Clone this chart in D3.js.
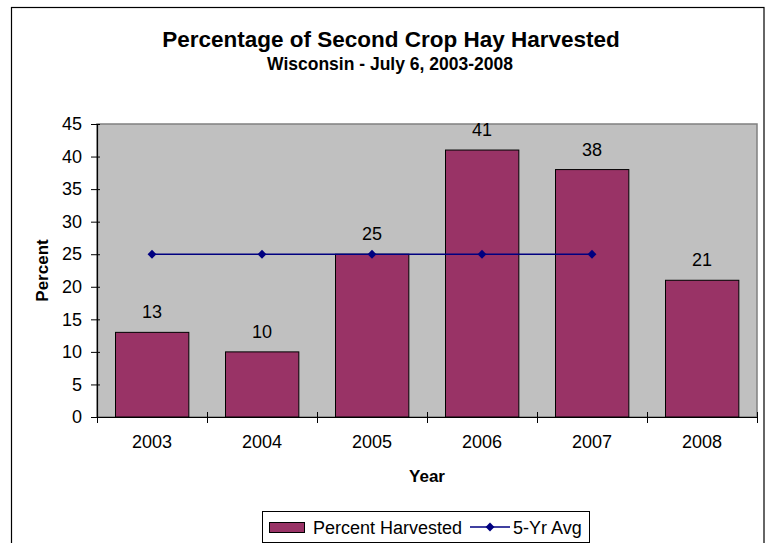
<!DOCTYPE html>
<html>
<head>
<meta charset="utf-8">
<script src="https://cdn.jsdelivr.net/npm/d3@7"></script>
<style>
  html, body { margin: 0; padding: 0; background: #fff; }
  svg { display: block; font-family: Arial, "Liberation Sans", sans-serif; }
</style>
</head>
<body>
<svg id="chart" width="773" height="543"></svg>
<script>
const years = ["2003", "2004", "2005", "2006", "2007", "2008"];
const percentHarvested = [13, 10, 25, 41, 38, 21];
const fiveYrAvg = [25, 25, 25, 25, 25, null];
const yTicks = [0, 5, 10, 15, 20, 25, 30, 35, 40, 45];

const svg = d3.select("#chart");
const plot = { left: 97, right: 757, top: 124, bottom: 417 };

// outer border
svg.append("rect").attr("x", 11.5).attr("y", 7.5).attr("width", 752.5).attr("height", 560)
  .attr("fill", "#fff").attr("stroke", "#000").attr("stroke-width", 1.2);

const x = d3.scaleBand().domain(years).range([plot.left, plot.right]).paddingInner(1/3).paddingOuter(1/6);
const xCat = d3.scaleBand().domain(years).range([plot.left, plot.right]);
const y = d3.scaleLinear().domain([0, 45]).range([plot.bottom, plot.top]);

// plot area
svg.append("rect").attr("x", plot.left).attr("y", plot.top)
  .attr("width", plot.right - plot.left).attr("height", plot.bottom - plot.top)
  .attr("fill", "#c0c0c0").attr("stroke", "#808080").attr("stroke-width", 1.5);

// bars
svg.append("g").selectAll("rect").data(years).join("rect")
  .attr("x", d => Math.round(x(d)) + 0.5)
  .attr("y", (d, i) => y(percentHarvested[i]))
  .attr("width", x.bandwidth())
  .attr("height", (d, i) => y(0) - y(percentHarvested[i]))
  .attr("fill", "#993366").attr("stroke", "#000").attr("stroke-width", 1);

// value labels
svg.append("g").selectAll("text").data(years).join("text")
  .attr("x", d => xCat(d) + xCat.bandwidth() / 2)
  .attr("y", (d, i) => y(percentHarvested[i]) - 14)
  .attr("text-anchor", "middle").attr("font-size", 18).attr("fill", "#000")
  .text((d, i) => percentHarvested[i]);

// y axis
const yAxis = d3.axisLeft(y).tickValues(yTicks).tickSizeInner(6).tickSizeOuter(0).tickPadding(9);
const gy = svg.append("g").attr("transform", `translate(${plot.left},0)`).call(yAxis);
gy.select(".domain").attr("stroke", "#000").attr("stroke-width", 1.2);
gy.selectAll(".tick line").attr("stroke", "#000").attr("x2", 3).attr("x1", -6);
gy.selectAll(".tick text").attr("font-size", 18).attr("fill", "#000").attr("font-family", "Arial, 'Liberation Sans', sans-serif");

// x axis
const xAxis = d3.axisBottom(xCat).tickSize(0).tickPadding(18);
const gx = svg.append("g").attr("transform", `translate(0,${plot.bottom})`).call(xAxis);
gx.select(".domain").attr("stroke", "#000").attr("stroke-width", 1.2);
gx.selectAll(".tick text").attr("font-size", 18).attr("fill", "#000").attr("font-family", "Arial, 'Liberation Sans', sans-serif");
// boundary tick marks
const boundaries = years.map(d => xCat(d)).concat([plot.right]);
svg.append("g").selectAll("line").data(boundaries).join("line")
  .attr("x1", d => Math.round(d) + 0.5).attr("x2", d => Math.round(d) + 0.5)
  .attr("y1", plot.bottom - 5).attr("y2", plot.bottom + 6)
  .attr("stroke", "#000").attr("stroke-width", 1);

// 5-yr avg line
const pts = years.map((d, i) => ({ d, v: fiveYrAvg[i] })).filter(p => p.v != null);
const line = d3.line().x(p => xCat(p.d) + xCat.bandwidth() / 2).y(p => y(p.v));
svg.append("path").datum(pts).attr("d", line)
  .attr("fill", "none").attr("stroke", "#000080").attr("stroke-width", 1.5);
const diamond = d3.symbol().type(d3.symbolDiamond2).size(50);
svg.append("g").selectAll("path").data(pts).join("path")
  .attr("transform", p => `translate(${xCat(p.d) + xCat.bandwidth() / 2},${y(p.v)})`)
  .attr("d", diamond).attr("fill", "#000080");

// titles
svg.append("text").attr("x", 391).attr("y", 47).attr("text-anchor", "middle")
  .attr("font-size", 22.5).attr("font-weight", "bold").text("Percentage of Second Crop Hay Harvested");
svg.append("text").attr("x", 390).attr("y", 70).attr("text-anchor", "middle")
  .attr("font-size", 17.5).attr("font-weight", "bold").text("Wisconsin - July 6, 2003-2008");
svg.append("text").attr("transform", `translate(48,${(plot.top + plot.bottom) / 2}) rotate(-90)`)
  .attr("text-anchor", "middle").attr("font-size", 17).attr("font-weight", "bold").text("Percent");
svg.append("text").attr("x", 427).attr("y", 482).attr("text-anchor", "middle")
  .attr("font-size", 17).attr("font-weight", "bold").text("Year");

// legend
const lg = svg.append("g");
lg.append("rect").attr("x", 262.5).attr("y", 511.5).attr("width", 327).attr("height", 31)
  .attr("fill", "#fff").attr("stroke", "#000").attr("stroke-width", 1);
lg.append("rect").attr("x", 269.5).attr("y", 522.5).attr("width", 35).attr("height", 10)
  .attr("fill", "#993366").attr("stroke", "#000").attr("stroke-width", 1);
lg.append("text").attr("x", 313).attr("y", 534).attr("font-size", 18).text("Percent Harvested");
lg.append("line").attr("x1", 470).attr("x2", 510).attr("y1", 527).attr("y2", 527)
  .attr("stroke", "#000080").attr("stroke-width", 1.5);
lg.append("path").attr("transform", "translate(490,527)").attr("d", diamond).attr("fill", "#000080");
lg.append("text").attr("x", 513).attr("y", 534).attr("font-size", 18).text("5-Yr Avg");
</script>
</body>
</html>
